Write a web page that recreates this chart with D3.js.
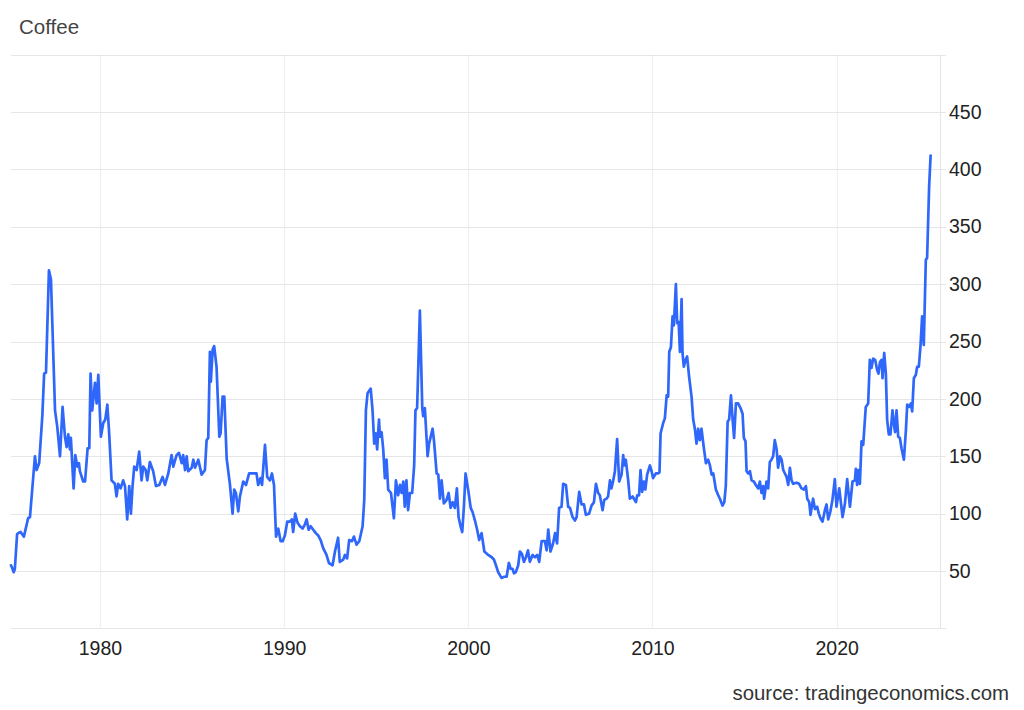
<!DOCTYPE html>
<html>
<head>
<meta charset="utf-8">
<script src="https://cdn.jsdelivr.net/npm/d3@7"></script>
<style>
  html, body { margin: 0; padding: 0; background: #fff; }
  svg { display: block; font-family: "Liberation Sans", Arial, sans-serif; }
</style>
</head>
<body>
<svg id="chart" width="1024" height="710"></svg>
<script>
const title = "Coffee";
const source = "source: tradingeconomics.com";
const yTicks = [50, 100, 150, 200, 250, 300, 350, 400, 450];
const yGrid = [0, 50, 100, 150, 200, 250, 300, 350, 400, 450, 500];
const xTicks = [1980, 1990, 2000, 2010, 2020];

const dates = [
1975.17,1975.25,1975.32,1975.38,1975.5,1975.56,1975.69,1975.87,1976.1,1976.2,1976.47,1976.56,1976.7,1976.87,1976.97,1977.07,1977.23,1977.34,1977.56,1977.68,1977.83,1977.97,
1978.1,1978.19,1978.28,1978.37,1978.42,1978.57,1978.66,1978.77,1978.86,1978.91,1979.09,1979.19,1979.33,1979.42,1979.49,1979.58,1979.73,1979.82,1979.91,
1980.05,1980.18,1980.29,1980.4,1980.5,1980.63,1980.81,1980.9,1980.99,1981.12,1981.26,1981.36,1981.48,1981.59,1981.68,1981.77,1981.86,1981.99,
1982.13,1982.26,1982.35,1982.48,1982.57,1982.71,1982.89,1983.04,1983.22,1983.4,1983.53,1983.71,1983.89,1983.98,
1984.16,1984.29,1984.44,1984.52,1984.62,1984.71,1984.79,1984.98,1985.07,1985.16,1985.34,1985.52,1985.7,1985.79,1985.88,1985.97,
1986.02,1986.12,1986.2,1986.33,1986.48,1986.55,1986.66,1986.75,1986.88,1987.06,1987.2,1987.29,1987.38,1987.51,1987.6,1987.78,1987.93,
1988.1,1988.32,1988.5,1988.59,1988.72,1988.8,1988.96,1989.08,1989.23,1989.34,1989.45,1989.56,1989.68,1989.81,1989.92,
1990.04,1990.17,1990.31,1990.42,1990.49,1990.6,1990.73,1990.86,1991.0,1991.11,1991.22,1991.33,1991.44,1991.58,1991.72,1991.85,1991.98,
1992.12,1992.3,1992.43,1992.63,1992.76,1992.93,1993.02,1993.21,1993.3,1993.42,1993.53,1993.68,1993.79,1993.93,
1994.08,1994.26,1994.35,1994.44,1994.53,1994.7,1994.8,1994.89,1994.98,1995.05,1995.15,1995.2,1995.29,1995.38,1995.47,1995.56,1995.65,1995.8,1995.96,
1996.07,1996.19,1996.29,1996.38,1996.47,1996.55,1996.64,1996.73,1996.83,1996.95,1997.06,1997.13,1997.22,1997.37,1997.5,1997.55,1997.64,1997.79,1997.87,
1998.06,1998.14,1998.28,1998.37,1998.46,1998.55,1998.67,1998.82,1998.93,1999.04,1999.15,1999.27,1999.38,1999.47,1999.58,1999.67,1999.76,1999.85,
2000.0,2000.13,2000.24,2000.36,2000.48,2000.59,2000.72,2000.87,2001.08,2001.27,2001.39,2001.5,2001.62,2001.8,2001.95,
2002.08,2002.2,2002.3,2002.4,2002.48,2002.58,2002.71,2002.8,2002.91,2003.02,2003.13,2003.24,2003.34,2003.49,2003.62,2003.74,2003.85,2003.98,
2004.16,2004.25,2004.34,2004.46,2004.6,2004.71,2004.82,2004.93,2005.06,2005.15,2005.3,2005.42,2005.52,2005.66,2005.79,2005.88,
2006.02,2006.15,2006.28,2006.38,2006.56,2006.69,2006.82,2006.93,2007.05,2007.14,2007.29,2007.38,2007.5,2007.59,2007.69,2007.77,2007.87,2007.96,
2008.08,2008.19,2008.32,2008.41,2008.46,2008.55,2008.68,2008.77,2008.92,2008.99,2009.1,2009.17,2009.27,2009.35,2009.44,2009.53,2009.61,2009.71,2009.86,2009.95,
2010.03,2010.18,2010.3,2010.38,2010.44,2010.58,2010.67,2010.77,2010.85,2010.91,2011.0,2011.09,2011.16,2011.27,2011.34,2011.42,2011.49,2011.58,2011.63,2011.7,2011.8,2011.88,2011.99,
2012.12,2012.21,2012.3,2012.39,2012.48,2012.57,2012.66,2012.79,2012.9,2013.02,2013.12,2013.21,2013.3,2013.44,2013.57,2013.66,2013.8,2013.9,2013.98,
2014.08,2014.16,2014.26,2014.35,2014.43,2014.53,2014.65,2014.78,2014.89,2014.96,2015.05,2015.11,2015.2,2015.29,2015.38,2015.5,2015.61,2015.74,2015.83,2015.92,
2016.01,2016.06,2016.19,2016.28,2016.37,2016.46,2016.55,2016.64,2016.74,2016.82,2016.92,2017.01,2017.1,2017.19,2017.28,2017.37,2017.46,2017.55,2017.64,2017.82,2017.96,
2018.09,2018.22,2018.33,2018.4,2018.51,2018.58,2018.72,2018.82,2018.94,2019.03,2019.12,2019.23,2019.36,2019.45,2019.54,2019.66,2019.77,2019.9,2019.99,
2020.14,2020.32,2020.45,2020.57,2020.72,2020.86,2020.99,2021.04,2021.11,2021.17,2021.26,2021.35,2021.44,2021.58,2021.71,2021.8,2021.89,2021.98,
2022.09,2022.2,2022.27,2022.35,2022.44,2022.49,2022.58,2022.67,2022.74,2022.83,2022.92,2023.03,2023.1,2023.17,2023.25,2023.34,2023.43,2023.52,2023.65,2023.76,2023.83,2023.93,
2024.03,2024.1,2024.19,2024.3,2024.37,2024.46,2024.55,2024.64,2024.73,2024.84,2024.91,2025.02,2025.1
];

const prices = [
55,52,49,52,82,83,84,80,96,97,150,138,144,185,222,223,312,304,190,176,150,193,
167,158,169,156,166,122,151,141,144,137,128,128,157,157,222,190,214,196,221,
167,179,182,195,170,129,126,115,126,122,129,124,95,124,100,124,141,138,
154,129,141,138,129,145,137,124,125,132,125,135,151,141,
151,153,144,151,138,150,137,140,147,140,147,134,138,164,166,241,
215,243,246,228,167,170,202,202,148,125,100,121,118,102,115,128,125,
135,135,135,125,131,125,160,132,129,135,125,80,87,76,76,
81,93,93,95,84,100,92,89,87,90,95,86,89,86,83,81,77,
70,64,57,55,67,79,58,60,64,61,77,76,80,73,
76,89,112,190,205,209,190,161,170,156,182,167,171,156,131,147,121,118,96,
129,116,125,118,128,106,129,103,118,118,142,190,192,277,192,185,192,150,161,
174,163,135,134,113,129,109,112,118,105,110,105,122,97,89,84,106,135,
120,105,101,94,86,77,83,67,64,62,60,55,49,44,45,
45,57,52,52,48,49,55,67,65,58,62,68,58,64,62,64,58,76,
76,68,86,67,74,83,74,105,106,126,125,106,105,97,94,97,
119,108,108,99,100,107,110,126,118,116,103,112,113,115,129,122,129,137,
165,128,134,151,142,147,129,113,115,113,110,116,116,138,119,128,121,134,142,137,
131,135,135,136,170,179,183,203,202,241,245,272,264,300,266,267,241,287,240,228,234,237,219,
202,182,174,161,174,164,174,157,144,147,142,134,135,121,116,113,107,110,124,
180,182,203,182,166,196,196,192,187,166,163,137,135,137,129,128,125,122,128,118,
124,113,128,122,145,147,150,164,156,140,150,147,138,135,132,125,140,129,126,127,126,
122,121,124,113,110,99,113,104,106,100,96,93,103,108,95,102,112,130,106,
122,97,109,130,106,128,129,139,125,138,126,163,160,193,196,234,227,235,
234,225,222,232,234,218,240,222,182,169,169,190,179,171,190,167,166,157,147,173,195,193,
196,189,218,221,228,228,246,272,247,321,323,385,412
];

const data = dates.map((d, i) => ({ date: d, value: prices[i] }));

const svg = d3.select("#chart");

const x = d3.scaleLinear().domain([1975.17, 2025.61]).range([11, 940]);
const y = d3.scaleLinear().domain([0, 500]).range([628.4, 54.6]);

// vertical gridlines
svg.append("g")
  .selectAll("line")
  .data(xTicks)
  .join("line")
  .attr("x1", d => Math.round(x(d)) + 0.5)
  .attr("x2", d => Math.round(x(d)) + 0.5)
  .attr("y1", y(500))
  .attr("y2", y(0))
  .attr("stroke", "#edf1f7")
  .attr("stroke-width", 1.2);

// horizontal gridlines
svg.append("g")
  .selectAll("line")
  .data(yGrid)
  .join("line")
  .attr("x1", 11)
  .attr("x2", 946)
  .attr("y1", d => Math.round(y(d)) + 0.5)
  .attr("y2", d => Math.round(y(d)) + 0.5)
  .attr("stroke", "#e6e6e6")
  .attr("stroke-width", 1.2);

// right axis line
svg.append("line")
  .attr("x1", 940.5).attr("x2", 940.5)
  .attr("y1", y(500)).attr("y2", y(0))
  .attr("stroke", "#e6e6e6")
  .attr("stroke-width", 1.2);

// y labels via axis
const yAxis = svg.append("g")
  .attr("transform", "translate(940,0)")
  .call(d3.axisRight(y).tickValues(yTicks).tickSize(0).tickPadding(9));
yAxis.select(".domain").remove();
yAxis.selectAll("text")
  .attr("font-size", 19.5)
  .attr("fill", "#222")
  .attr("font-family", "Liberation Sans, Arial, sans-serif");

// x labels via axis
const xAxis = svg.append("g")
  .attr("transform", "translate(0,628)")
  .call(d3.axisBottom(x).tickValues(xTicks).tickFormat(d3.format("d")).tickSize(0).tickPadding(13));
xAxis.select(".domain").remove();
xAxis.selectAll("text")
  .attr("font-size", 19.5)
  .attr("fill", "#222")
  .attr("font-family", "Liberation Sans, Arial, sans-serif");

// line
const line = d3.line()
  .x(d => x(d.date))
  .y(d => y(d.value))
  .curve(d3.curveLinear);

svg.append("path")
  .datum(data)
  .attr("fill", "none")
  .attr("stroke", "#2f67fb")
  .attr("stroke-width", 2.7)
  .attr("stroke-linejoin", "round")
  .attr("stroke-linecap", "round")
  .attr("d", line);

// title
svg.append("text")
  .attr("x", 19)
  .attr("y", 34)
  .attr("font-size", 20.5)
  .attr("fill", "#444")
  .text(title);

// source
svg.append("text")
  .attr("x", 1009)
  .attr("y", 700)
  .attr("text-anchor", "end")
  .attr("font-size", 20.4)
  .attr("fill", "#333")
  .text(source);
</script>
</body>
</html>
